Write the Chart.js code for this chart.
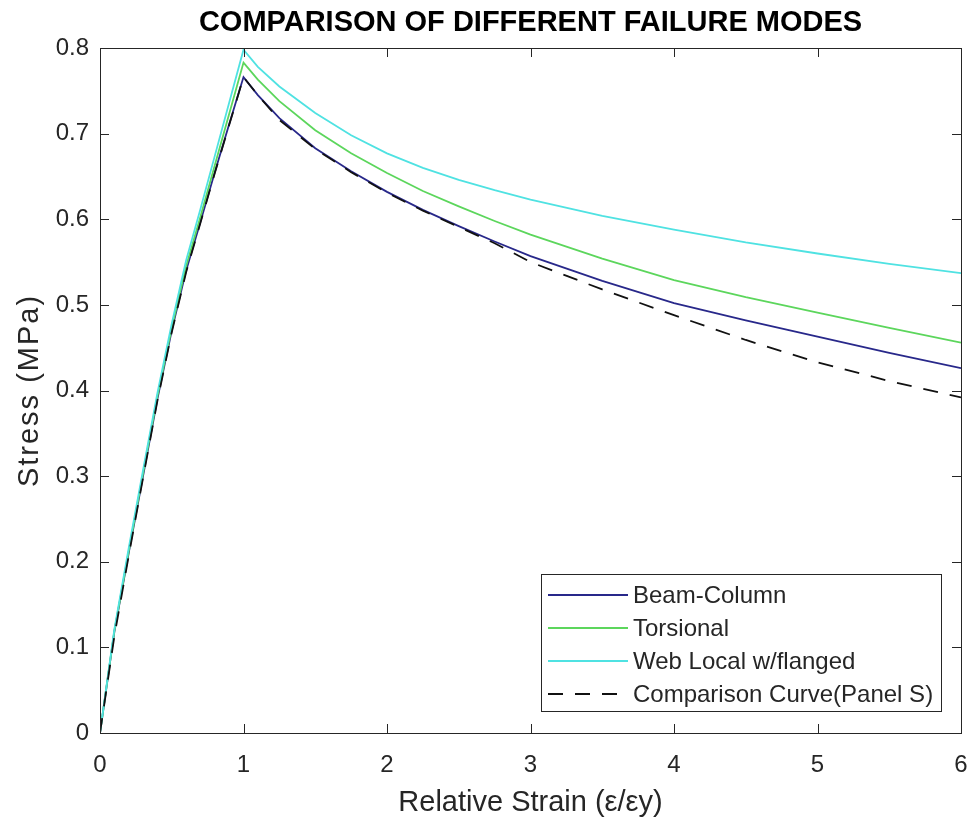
<!DOCTYPE html>
<html>
<head>
<meta charset="utf-8">
<script src="https://cdn.jsdelivr.net/npm/chart.js@4.4.0/dist/chart.umd.min.js"></script>
<style>
  html, body { margin: 0; padding: 0; background: #fff; }
  #wrap { width: 976px; height: 822px; }
</style>
</head>
<body>
<div id="wrap"><canvas id="chart" width="976" height="822"></canvas></div>
<script>
const FONT = "'Liberation Sans', Arial, sans-serif";

// relative strain (x) samples
const strain = [0, 0.1, 0.2, 0.3, 0.4, 0.5, 0.6, 0.7, 0.8, 0.9,
  1, 1.1, 1.25, 1.5, 1.75, 2, 2.25, 2.5, 2.75, 3, 3.5, 4, 4.5, 5, 5.5, 6];

// stress (MPa)
const beamColumn = [0, 0.118, 0.21, 0.30, 0.39, 0.47, 0.54, 0.597, 0.655, 0.711,
  0.766, 0.745, 0.718, 0.683, 0.656, 0.632, 0.611, 0.592, 0.574, 0.557, 0.528, 0.502, 0.482, 0.463, 0.444, 0.426];
const torsional = [0, 0.119, 0.212, 0.303, 0.393, 0.473, 0.545, 0.603, 0.663, 0.723,
  0.783, 0.763, 0.738, 0.704, 0.677, 0.654, 0.633, 0.615, 0.598, 0.582, 0.554, 0.529, 0.509, 0.491, 0.473, 0.456];
const webLocal = [0, 0.121, 0.216, 0.307, 0.397, 0.478, 0.552, 0.612, 0.674, 0.736,
  0.798, 0.778, 0.755, 0.724, 0.698, 0.677, 0.660, 0.646, 0.634, 0.623, 0.604, 0.588, 0.573, 0.560, 0.548, 0.537];
const comparison = [0, 0.113, 0.207, 0.298, 0.388, 0.468, 0.538, 0.596, 0.654, 0.71,
  0.766, 0.745, 0.716, 0.682, 0.655, 0.631, 0.610, 0.591, 0.572, 0.550, 0.518, 0.488, 0.459, 0.433, 0.411, 0.392];

const seriesNames = ['Beam-Column', 'Torsional', 'Web Local w/flanged', 'Comparison Curve(Panel S)'];
const seriesColors = ['#28288a', '#5cd65c', '#4fe2e2', '#111111'];

const xTicks = [0, 1, 2, 3, 4, 5, 6];
const yTicks = [0, 0.1, 0.2, 0.3, 0.4, 0.5, 0.6, 0.7, 0.8];

const titleText = 'COMPARISON OF DIFFERENT FAILURE MODES';
const xTitle = 'Relative Strain (\u03b5/\u03b5y)';
const yTitle = 'Stress (MPa)';

function pts(ys) {
  return strain.map((x, i) => ({ x: x, y: ys[i] }));
}

const allSeries = [beamColumn, torsional, webLocal, comparison];
const datasets = allSeries.map((ys, i) => ({
  label: seriesNames[i],
  data: pts(ys),
  borderColor: seriesColors[i],
  borderWidth: 1.8,
  borderDash: i === 3 ? [15, 12] : [],
  pointRadius: 0,
  tension: 0,
  fill: false,
  order: 3 - i
}));

// box, inward ticks, titles and legend, MATLAB style
const matlabLook = {
  id: 'matlabLook',
  afterDraw(chart) {
    const { ctx, chartArea: a, scales } = chart;
    const xs = scales.x, ys = scales.y;
    ctx.save();
    ctx.strokeStyle = '#262626';
    ctx.lineWidth = 1;
    ctx.strokeRect(a.left + 0.5, a.top + 0.5, a.right - a.left, a.bottom - a.top);
    const tl = 9;
    ctx.beginPath();
    xTicks.forEach(v => {
      const p = Math.round(xs.getPixelForValue(v)) + 0.5;
      ctx.moveTo(p, a.bottom); ctx.lineTo(p, a.bottom - tl);
      ctx.moveTo(p, a.top); ctx.lineTo(p, a.top + tl);
    });
    yTicks.forEach(v => {
      const p = Math.round(ys.getPixelForValue(v)) + 0.5;
      ctx.moveTo(a.left, p); ctx.lineTo(a.left + tl, p);
      ctx.moveTo(a.right, p); ctx.lineTo(a.right - tl, p);
    });
    ctx.stroke();

    // title
    ctx.fillStyle = '#000';
    ctx.font = 'bold 29px ' + FONT;
    ctx.textAlign = 'center';
    ctx.textBaseline = 'middle';
    ctx.fillText(titleText, (a.left + a.right) / 2, 23);

    // axis titles
    ctx.fillStyle = '#262626';
    ctx.font = '29px ' + FONT;
    ctx.fillText(xTitle, (a.left + a.right) / 2, 803);
    ctx.save();
    ctx.translate(30, (a.top + a.bottom) / 2);
    ctx.rotate(-Math.PI / 2);
    ctx.letterSpacing = '2px';
    ctx.fillText(yTitle, 0, 0);
    ctx.restore();

    // legend
    const lx = 541, ly = 574, lw = 400, lh = 137;
    ctx.fillStyle = '#fff';
    ctx.fillRect(lx, ly, lw, lh);
    ctx.strokeStyle = '#262626';
    ctx.strokeRect(lx + 0.5, ly + 0.5, lw, lh);
    ctx.font = '24px ' + FONT;
    ctx.textAlign = 'left';
    chart.data.datasets.forEach((ds, i) => {
      const y = ly + 21 + i * 33;
      ctx.strokeStyle = ds.borderColor;
      ctx.lineWidth = 1.8;
      ctx.setLineDash(ds.borderDash);
      ctx.beginPath();
      ctx.moveTo(lx + 7, y); ctx.lineTo(lx + 87, y);
      ctx.stroke();
      ctx.setLineDash([]);
      ctx.fillStyle = '#262626';
      ctx.fillText(ds.label, lx + 92, y + 1);
    });
    ctx.restore();
  }
};

const ctx = document.getElementById('chart').getContext('2d');
const chart = new Chart(ctx, {
  type: 'line',
  data: { datasets: datasets },
  options: {
    responsive: false,
    animation: false,
    layout: { padding: { left: 0, top: 48, right: 15, bottom: 0 } },
    plugins: {
      legend: { display: false },
      title: { display: false },
      tooltip: { enabled: false }
    },
    scales: {
      x: {
        type: 'linear',
        min: 0,
        max: 6,
        afterFit(scale) {
          scale.height = 89;
          scale.paddingLeft = 0;
          scale.paddingRight = 0;
        },
        afterBuildTicks(scale) { scale.ticks = xTicks.map(v => ({ value: v })); },
        grid: { display: true, drawOnChartArea: false, drawTicks: false, color: 'transparent' },
        border: { display: false },
        ticks: {
          color: '#262626',
          font: { family: FONT, size: 24 },
          padding: 18,
          maxRotation: 0
        }
      },
      y: {
        type: 'linear',
        min: 0,
        max: 0.8,
        afterFit(scale) {
          scale.width = 100;
          scale.paddingTop = 0;
          scale.paddingBottom = 0;
        },
        afterBuildTicks(scale) { scale.ticks = yTicks.map(v => ({ value: v })); },
        grid: { display: true, drawOnChartArea: false, drawTicks: false, color: 'transparent' },
        border: { display: false },
        ticks: {
          color: '#262626',
          font: { family: FONT, size: 24 },
          padding: 11,
          callback: v => String(Math.round(v * 10) / 10)
        }
      }
    }
  },
  plugins: [matlabLook]
});
</script>
</body>
</html>
